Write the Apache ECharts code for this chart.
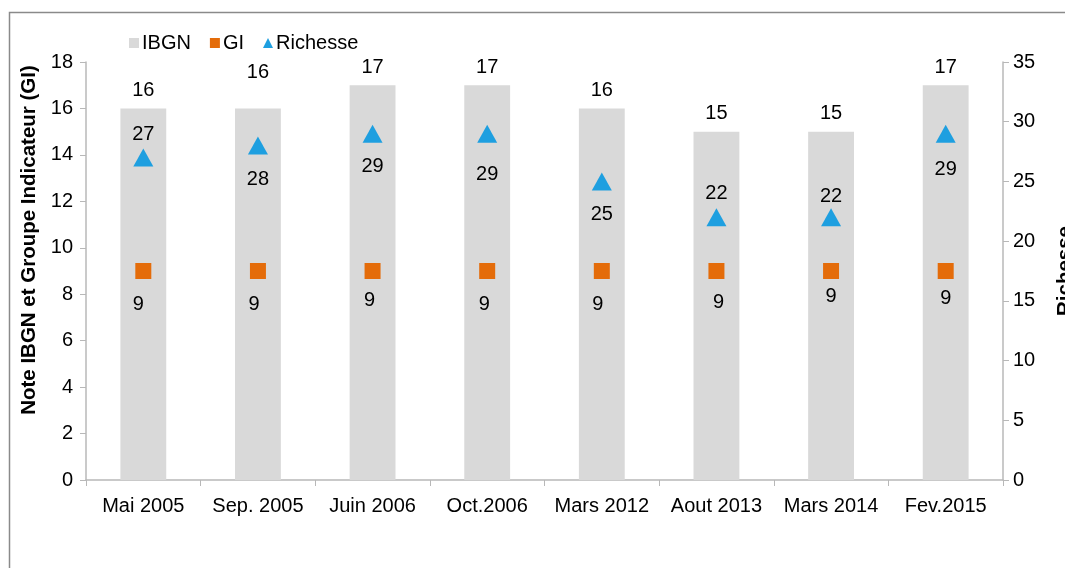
<!DOCTYPE html>
<html>
<head>
<meta charset="utf-8">
<style>
  html, body { margin: 0; padding: 0; background: #ffffff; }
  #chart { width: 1065px; height: 568px; }
</style>
<script src="https://cdn.jsdelivr.net/npm/echarts@6/dist/echarts.min.js"></script>
</head>
<body>
<div id="chart"></div>
<script>
// Sampling campaigns
const campaigns = ['Mai 2005', 'Sep. 2005', 'Juin 2006', 'Oct.2006', 'Mars 2012', 'Aout 2013', 'Mars 2014', 'Fev.2015'];
// IBGN score (left axis)
const ibgn = [16, 16, 17, 17, 16, 15, 15, 17];
// Indicator group GI (left axis)
const gi = [9, 9, 9, 9, 9, 9, 9, 9];
// Taxonomic richness (right axis)
const richesse = [27, 28, 29, 29, 25, 22, 22, 29];
// Left and right axis ticks
const leftTicks = { min: 0, max: 18, step: 2 };
const rightTicks = { min: 0, max: 35, step: 5 };

// Label placement for the richness markers
const richLabelSide = ['top', 'bottom', 'bottom', 'bottom', 'bottom', 'top', 'top', 'bottom'];
const richLabelDy = [2, 7, 6, 14, 6, 1, 4, 9];
// Extra lift for IBGN labels (px)
const ibgnLabelLift = [0, 18, 0, 0, 0, 0, 0, 0];
// GI label nudges [dx, dy]
const giLabelNudge = [[-5, 2], [-4, 2], [-3, -2], [-3, 2], [-4, 2], [2, 0], [0, -6], [0, -4]];

const FONT = '"Liberation Sans", Arial, sans-serif';
const FS = 20;
const AXIS_GREY = '#b8b8b8';
const INK = '#000';

const chart = echarts.init(document.getElementById('chart'), null, { renderer: 'canvas' });

const option = {
  backgroundColor: '#ffffff',
  animation: false,
  textStyle: { fontFamily: FONT, color: INK },
  graphic: [{
    type: 'rect',
    shape: { x: 9.5, y: 12.5, width: 1200, height: 700 },
    style: { fill: 'none', stroke: '#8a8a8a', lineWidth: 1.5 },
    silent: true,
    z: -10
  }],
  legend: {
    top: 28,
    left: 124,
    itemWidth: 10,
    itemHeight: 10,
    itemGap: 19,
    textStyle: { fontFamily: FONT, fontSize: FS, color: INK, padding: [0, 0, 0, -2] },
    data: [
      { name: 'IBGN', icon: 'rect' },
      { name: 'GI', icon: 'rect' },
      { name: 'Richesse', icon: 'triangle' }
    ]
  },
  grid: { left: 86, right: 62, top: 62, bottom: 88, containLabel: false, outerBoundsMode: 'none' },
  xAxis: {
    type: 'category',
    data: campaigns,
    boundaryGap: true,
    axisLine: { lineStyle: { color: AXIS_GREY, width: 1.5 } },
    axisTick: { show: true, alignWithLabel: false, interval: 0, length: 6, lineStyle: { color: AXIS_GREY } },
    axisLabel: { interval: 0, hideOverlap: false, fontFamily: FONT, fontSize: FS, color: INK, margin: 16 }
  },
  yAxis: [
    {
      type: 'value',
      min: leftTicks.min,
      max: leftTicks.max,
      interval: leftTicks.step,
      name: 'Note IBGN et Groupe Indicateur (GI)',
      nameLocation: 'middle',
      nameGap: 45,
      nameRotate: 90,
      nameTextStyle: { fontFamily: FONT, fontSize: 20.5, fontWeight: 'bold', color: INK, padding: [0, 0, 0, 62] },
      splitLine: { show: false },
      axisLine: { show: true, lineStyle: { color: AXIS_GREY, width: 1.5 } },
      axisTick: { show: true, length: 6, lineStyle: { color: AXIS_GREY } },
      axisLabel: { fontFamily: FONT, fontSize: FS, color: INK, margin: 13 }
    },
    {
      type: 'value',
      position: 'right',
      min: rightTicks.min,
      max: rightTicks.max,
      interval: rightTicks.step,
      name: 'Richesse',
      nameLocation: 'middle',
      nameGap: 52,
      nameRotate: 90,
      nameTextStyle: { fontFamily: FONT, fontSize: 20.5, fontWeight: 'bold', color: INK },
      splitLine: { show: false },
      axisLine: { show: true, lineStyle: { color: AXIS_GREY, width: 1.5 } },
      axisTick: { show: true, length: 6, lineStyle: { color: AXIS_GREY } },
      axisLabel: { fontFamily: FONT, fontSize: FS, color: INK, margin: 10 }
    }
  ],
  series: [
    {
      name: 'IBGN',
      type: 'bar',
      yAxisIndex: 0,
      barWidth: '40%',
      itemStyle: { color: '#d9d9d9' },
      data: ibgn.map((v, i) => ({
        value: v,
        label: { offset: [0, -ibgnLabelLift[i]] }
      })),
      label: {
        show: true,
        position: 'top',
        distance: 8,
        fontFamily: FONT,
        fontSize: FS,
        color: INK
      },
      z: 1
    },
    {
      name: 'GI',
      type: 'scatter',
      yAxisIndex: 0,
      symbol: 'rect',
      symbolSize: 16,
      itemStyle: { color: '#e46c0a', opacity: 1 },
      data: gi.map((v, i) => ({
        value: v,
        label: { offset: giLabelNudge[i] }
      })),
      label: {
        show: true,
        position: 'bottom',
        distance: 13,
        fontFamily: FONT,
        fontSize: FS,
        color: INK
      },
      z: 3
    },
    {
      name: 'Richesse',
      type: 'scatter',
      yAxisIndex: 1,
      symbol: 'triangle',
      symbolSize: [20, 18],
      itemStyle: { color: '#1e9fe0', opacity: 1 },
      data: richesse.map((v, i) => ({
        value: v,
        label: {
          position: richLabelSide[i],
          distance: richLabelSide[i] === 'top' ? 6 : 8,
          offset: [0, richLabelDy[i]]
        }
      })),
      label: {
        show: true,
        fontFamily: FONT,
        fontSize: FS,
        color: INK
      },
      z: 3
    }
  ]
};

chart.setOption(option);
</script>
</body>
</html>
